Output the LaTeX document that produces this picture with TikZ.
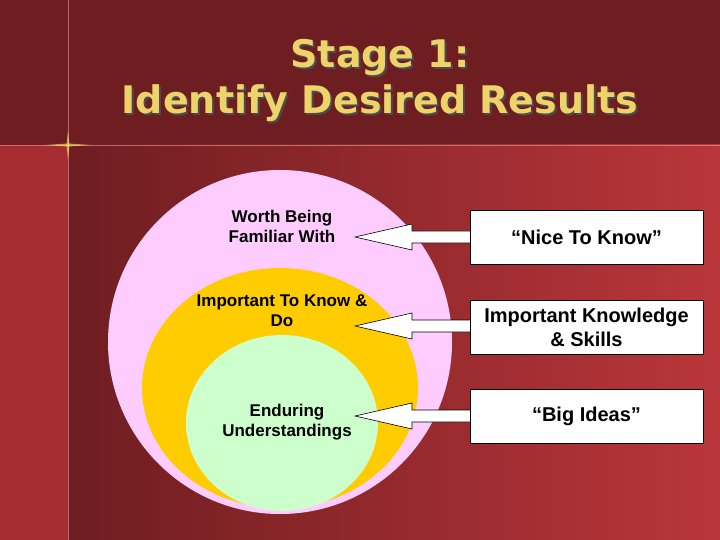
\documentclass[tikz,border=0pt]{standalone}
\usepackage{fontspec}
\setmainfont{Liberation Sans}
\newfontfamily\titlefont{DejaVu Sans}
\definecolor{bgdark}{HTML}{6E1D21}
\definecolor{bgright}{HTML}{BA363A}
\definecolor{bgleft}{HTML}{A52C30}
\definecolor{pinkc}{HTML}{FFCCFF}
\definecolor{orangec}{HTML}{FFCC00}
\definecolor{greenc}{HTML}{CCFFCC}
\definecolor{titlec}{HTML}{EDD36A}
\begin{document}
\begin{tikzpicture}[x=1pt,y=-1pt,
  lbl/.style={font=\bfseries\fontsize{17}{20}\selectfont, align=center, text=black},
  boxn/.style={draw=black, fill=white, minimum width=233pt, minimum height=54pt, font=\bfseries\fontsize{20}{24}\selectfont, align=center},
  arr/.style={draw=black, fill=white, line width=0.6pt},
  ttl/.style={font=\titlefont\bfseries\fontsize{38}{42}\selectfont}]
\useasboundingbox (0,0) rectangle (720,540);
% background
\fill[bgdark] (0,0) rectangle (720,145);
\fill[bgleft] (0,145) rectangle (68,540);
\shade[left color=bgdark, right color=bgright] (68,145) rectangle (720,540);
\draw[white!70!red, opacity=0.5, line width=0.6pt] (68,0) -- (68,540);
\draw[white!70!red, opacity=0.5, line width=0.6pt] (0,145) -- (720,145);
\fill[yellow!60!white, opacity=0.6] (68,130) -- (69.5,145) -- (68,160) -- (66.5,145) -- cycle;
\fill[yellow!60!white, opacity=0.6] (45,145) -- (68,143.5) -- (91,145) -- (68,146.5) -- cycle;
% title
\node[ttl, text=black!70] (t1s) at (382,60) {Stage 1:};
\node[ttl, text=titlec] (t1) at (380,58) {Stage 1:};
\node[ttl, text=black!70] (t2s) at (382,105) {Identify Desired Results};
\node[ttl, text=titlec] (t2) at (380,103) {Identify Desired Results};
% circles
\fill[pinkc] (280,342) circle (172);
\fill[orangec] (280,388) ellipse [x radius=138, y radius=120];
\fill[greenc] (282,423) ellipse [x radius=96, y radius=88];
\node[lbl] (l1) at (282,226) {Worth Being\\Familiar With};
\node[lbl] (l2) at (282,311) {Important To Know \&\\Do};
\node[lbl] (l3) at (287,422) {Enduring\\Understandings};
% boxes
\node[boxn] (b1) at (586.5,237) {“Nice To Know”};
\node[boxn] (b2) at (586.5,327) {Important Knowledge\\\& Skills};
\node[boxn] (b3) at (586.5,416.5) {“Big Ideas”};
% arrows
\foreach \b/\y in {b1/237,b2/326,b3/416}{
  \draw[arr] (\b.west |- 0,\y-6) -- (412,\y-6) -- (412,\y-13) -- (355,\y) -- (412,\y+13) -- (412,\y+6) -- (\b.west |- 0,\y+6);
}
\end{tikzpicture}
\end{document}
